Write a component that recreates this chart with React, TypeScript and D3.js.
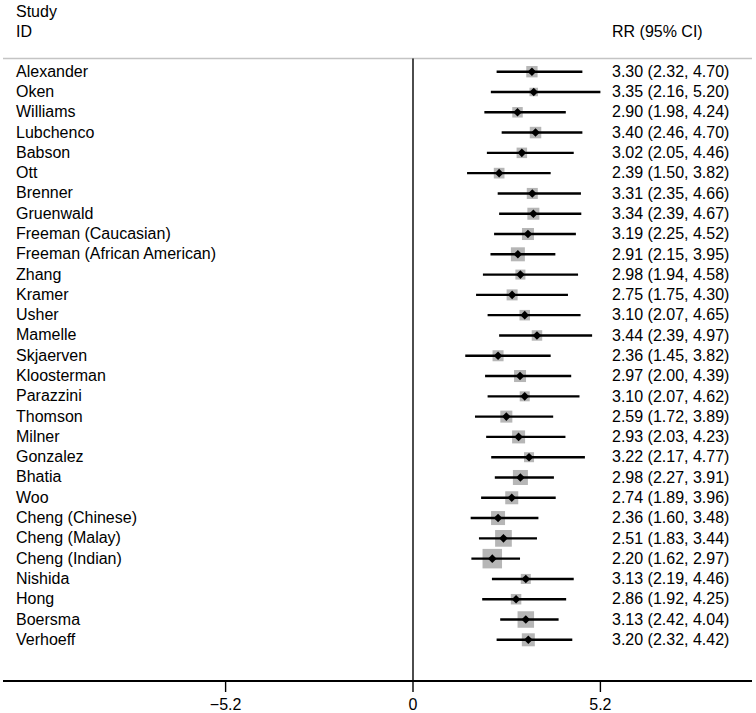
import React from "react";
import * as d3 from "d3";

const studies = [
  "Alexander", "Oken", "Williams", "Lubchenco", "Babson", "Ott", "Brenner",
  "Gruenwald", "Freeman (Caucasian)", "Freeman (African American)", "Zhang",
  "Kramer", "Usher", "Mamelle", "Skjaerven", "Kloosterman", "Parazzini",
  "Thomson", "Milner", "Gonzalez", "Bhatia", "Woo", "Cheng (Chinese)",
  "Cheng (Malay)", "Cheng (Indian)", "Nishida", "Hong", "Boersma", "Verhoeff",
];
const rr = [3.30, 3.35, 2.90, 3.40, 3.02, 2.39, 3.31, 3.34, 3.19, 2.91, 2.98, 2.75, 3.10, 3.44, 2.36, 2.97, 3.10, 2.59, 2.93, 3.22, 2.98, 2.74, 2.36, 2.51, 2.20, 3.13, 2.86, 3.13, 3.20];
const lower = [2.32, 2.16, 1.98, 2.46, 2.05, 1.50, 2.35, 2.39, 2.25, 2.15, 1.94, 1.75, 2.07, 2.39, 1.45, 2.00, 2.07, 1.72, 2.03, 2.17, 2.27, 1.89, 1.60, 1.83, 1.62, 2.19, 1.92, 2.42, 2.32];
const upper = [4.70, 5.20, 4.24, 4.70, 4.46, 3.82, 4.66, 4.67, 4.52, 3.95, 4.58, 4.30, 4.65, 4.97, 3.82, 4.39, 4.62, 3.89, 4.23, 4.77, 3.91, 3.96, 3.48, 3.44, 2.97, 4.46, 4.25, 4.04, 4.42];
const weights = [2.92, 1.64, 2.51, 3.01, 2.51, 2.60, 2.76, 3.28, 3.28, 4.46, 2.28, 2.76, 2.51, 2.51, 2.76, 3.28, 2.28, 3.28, 3.85, 2.28, 5.13, 3.85, 4.46, 6.36, 8.66, 2.28, 2.51, 6.20, 3.85];
const xTicks = [-5.2, 0, 5.2];

const W = 756;
const H = 713;
const FONT = "'Liberation Sans', Arial, Helvetica, sans-serif";

export default function App() {
  const x = d3.scaleLinear().domain([-5.2, 5.2]).range([225.6, 600.4]);
  const y = d3.scalePoint<string>().domain(studies).range([71.7, 639.8]);
  const box = d3.scaleSqrt().domain([0, 8.66]).range([0, 19.5]);
  const fmt = d3.format(".2f");
  const tickFmt = (v: number) => (v === 0 ? "0" : (v < 0 ? "\u2212" : "") + Math.abs(v).toFixed(1));

  const left = 3;
  const right = 752;
  const headerY = 58.5;
  const axisY = 681;
  const textX = 612;

  return (
    <svg width={W} height={H} style={{ position: "absolute", left: 0, top: 0, background: "#fff" }} fontFamily={FONT}>
      <rect x={0} y={0} width={W} height={H} fill="#fff" />
      <text x={16} y={17} fontSize={16}>Study</text>
      <text x={16} y={36.5} fontSize={16}>ID</text>
      <text x={textX} y={36.5} fontSize={16}>RR (95% CI)</text>
      <line x1={left} x2={right} y1={headerY} y2={headerY} stroke="#c4c4c4" strokeWidth={1.5} />
      <line x1={x(0)} x2={x(0)} y1={headerY} y2={axisY} stroke="#000" strokeWidth={1.4} />
      {studies.map((s, i) => {
        const cy = y(s) as number;
        const cx = x(rr[i]);
        const b = box(weights[i]);
        return (
          <g key={s}>
            <text x={16} y={cy + 5} fontSize={16}>{s}</text>
            <rect x={cx - b / 2} y={cy - b / 2} width={b} height={b} fill="#b6b6b6" />
            <line x1={x(lower[i])} x2={x(upper[i])} y1={cy} y2={cy} stroke="#000" strokeWidth={2.4} />
            <path d="M0,-4.3L4.3,0L0,4.3L-4.3,0Z" transform={`translate(${cx},${cy})`} fill="#000" />
            <text x={textX} y={cy + 5.2} fontSize={16}>
              {`${fmt(rr[i])} (${fmt(lower[i])}, ${fmt(upper[i])})`}
            </text>
          </g>
        );
      })}
      <line x1={left} x2={right} y1={axisY} y2={axisY} stroke="#000" strokeWidth={1.8} />
      {xTicks.map((t) => (
        <g key={t} transform={`translate(${x(t)},${axisY})`}>
          <line y1={0} y2={11} stroke="#000" strokeWidth={1.4} />
          <text y={29} textAnchor="middle" fontSize={16}>{tickFmt(t)}</text>
        </g>
      ))}
    </svg>
  );
}
